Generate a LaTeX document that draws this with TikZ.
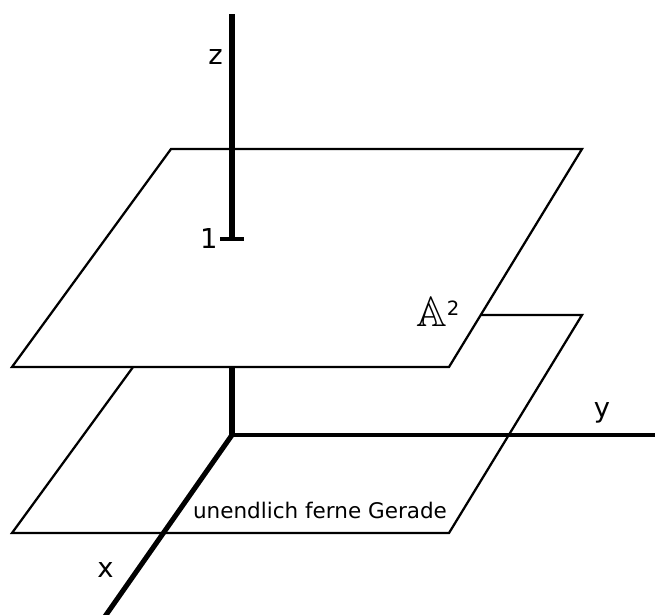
\documentclass[tikz,border=0pt]{standalone}
\usepackage{amsmath,amssymb}
\usepackage{fontspec}
\setmainfont{DejaVu Sans}
\usetikzlibrary{calc}

\begin{document}
\begin{tikzpicture}[
		every node/.style={font=\fontsize{19.5}{22}\selectfont},
		lbl/.style={inner sep=0pt, anchor=base},
		plane/.style={draw=black, line width=1.6pt, line join=miter},
		axis/.style={draw=black, line width=3.6pt},
		thinaxis/.style={draw=black, line width=2.4pt}
	]
	\useasboundingbox (-5.8,-4.475) rectangle (10.575,10.875);

	% Axis points
	\coordinate (O) at (0,0);
	\coordinate (ztop) at (0,10.525);
	\coordinate (zone) at (0,4.9);
	\coordinate (yend) at (10.7,0);
	\coordinate (xend) at (-3.22,-4.6);

	% Plane corners: upper plane z=1, lower plane
	\coordinate (ua) at (-1.525,7.15);
	\coordinate (ub) at (8.75,7.15);
	\coordinate (uc) at (5.425,1.7);
	\coordinate (ud) at (-5.5,1.7);
	\coordinate (la) at (-1.525,3.0);
	\coordinate (lb) at (8.75,3.0);
	\coordinate (lc) at (5.425,-2.45);
	\coordinate (ld) at (-5.5,-2.45);

	% Lower plane and axes below
	\draw[plane] (la) -- (lb) -- (lc) -- (ld) -- cycle;
	\draw[thinaxis] (O) -- (yend);
	\draw[axis] (O) -- (xend);
	\draw[axis] (O) -- (zone);

	% Upper plane covers what lies behind
	\filldraw[plane, fill=white] (ua) -- (ub) -- (uc) -- (ud) -- cycle;

	% z axis above the plane with tick at 1
	\draw[axis] (zone) -- (ztop);
	\draw[thinaxis] ($(zone)+(-0.3,0)$) -- ($(zone)+(0.3,0)$);

	% Labels
	\node[lbl] (zlabel) at (-0.41,9.25) {z};
	\node[lbl] (onelabel) at (-0.58,4.675) {1};
	\node[lbl] (ylabel) at (9.25,0.45) {y};
	\node[lbl] (xlabel) at (-3.16,-3.55) {x};
	\node[lbl, anchor=base west] (affine) at (4.6,2.725)
		{\scalebox{1.55}{$\mathbb{A}$}\raisebox{0.27cm}{\fontsize{14}{16}\selectfont 2}};
	\node[lbl, font=\fontsize{15.3}{18}\selectfont] (ferne) at (2.2,-2.075) {unendlich ferne Gerade};
\end{tikzpicture}
\end{document}
